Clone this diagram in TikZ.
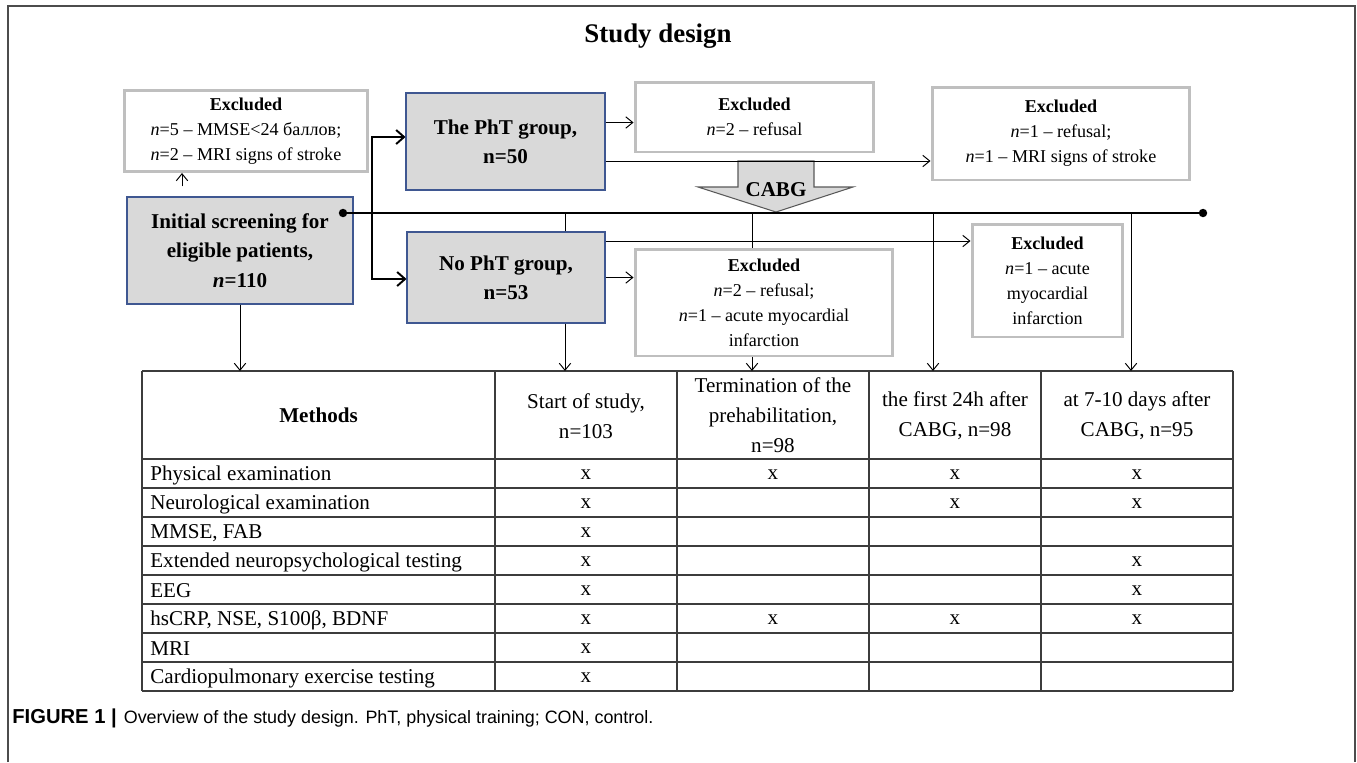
\documentclass[tikz,border=0pt]{standalone}
\usepackage{fontspec}
\setmainfont{Liberation Serif}
\newfontfamily\capfont{Liberation Sans}
\usepackage{xcolor}
\usepackage{tikz}
\usetikzlibrary{arrows.meta,positioning,calc}

\definecolor{boxgray}{RGB}{217,217,217}
\definecolor{boxblue}{RGB}{63,87,145}
\definecolor{exgray}{RGB}{191,191,191}
\definecolor{gridgray}{RGB}{60,60,60}

\begin{document}
\begin{tikzpicture}[x=0.02cm, y=-0.02cm,
        groupbox/.style={draw=boxblue, fill=boxgray, line width=0.6pt, align=center, inner sep=2pt, font=\fontsize{12}{16.6}\selectfont\bfseries},
        exbox/.style={draw=exgray, line width=1.7pt, fill=white, align=center, inner sep=2pt, font=\fontsize{10.3}{14.2}\selectfont},
        cell/.style={align=center, inner sep=0pt, font=\fontsize{12}{17}\selectfont},
        thinline/.style={line width=0.55pt},
        branch/.style={line width=1.1pt, -{Straight Barb[length=4.5pt,width=8pt]}},
        >={Straight Barb[length=4pt,width=6.5pt]}]

        \useasboundingbox (0,0) rectangle (1357,762);
        \draw[gray!60!black, line width=0.8pt] (8,762) -- (8,6) -- (1355,6) -- (1355,762);

        % Nodes
        \node[anchor=base, font=\fontsize{15.3}{18}\selectfont\bfseries] (title) at (658,42) {Study design};

        \node[exbox, minimum width=4.88cm, minimum height=1.62cm] (excl0) at (246,131) {\textbf{Excluded}\\\textit{n}=5 – MMSE<24 баллов;\\\textit{n}=2 – MRI signs of stroke};
        \node[groupbox, minimum width=4.52cm, minimum height=2.14cm, font=\fontsize{12}{16.8}\selectfont\bfseries] (screen) at (240,250.5) {Initial screening for\\eligible patients,\\\textit{n}=110};

        \node[groupbox, minimum width=3.98cm, minimum height=1.94cm] (pht) at (505.5,141.5) {The PhT group,\\n=50};
        \node[groupbox, minimum width=3.96cm, minimum height=1.82cm] (nopht) at (506,277.5) {No PhT group,\\n=53};

        \node[exbox, minimum width=4.78cm, minimum height=1.4cm] (excl1) at (754.5,117) {\textbf{Excluded}\\\textit{n}=2 – refusal};
        \node[exbox, minimum width=5.16cm, minimum height=1.86cm] (excl2) at (1061,133.5) {\textbf{Excluded}\\\textit{n}=1 – refusal;\\\textit{n}=1 – MRI signs of stroke};
        \node[exbox, minimum width=5.16cm, minimum height=2.14cm] (excl3) at (764,302.5) {\textbf{Excluded}\\\textit{n}=2 – refusal;\\\textit{n}=1 – acute myocardial\\infarction};
        \node[exbox, minimum width=3.02cm, minimum height=2.26cm] (excl4) at (1047.5,280.5) {\textbf{Excluded}\\\textit{n}=1 – acute\\myocardial\\infarction};

        % CABG arrow
        \draw[fill=boxgray, draw=gray!70!black, line width=0.6pt] (738,161) -- (814,161) -- (814,187) -- (853,187) -- (776,212) -- (698,187) -- (738,187) -- cycle;
        \node[font=\fontsize{12}{14}\selectfont\bfseries] (cabg) at (776,190) {CABG};

        % Timeline
        \coordinate (tl0) at (343,213);
        \coordinate (tl1) at (1203,213);
        \coordinate (br) at (372,213);
        \coordinate (d3) at (933,213);
        \coordinate (d4) at (1131,213);
        \coordinate (tabtop) at (142,371);

        % Table
        \foreach \x in {142,495,677,869,1041,1233}
            \draw[gridgray, line width=0.8pt] (\x,371) -- (\x,691);
        \foreach \y in {371,459,488,517,546,575,604,633,662,691}
            \draw[gridgray, line width=0.8pt] (142,\y) -- (1233,\y);

        \node[cell, font=\fontsize{12}{17}\selectfont\bfseries] (hd0) at (318.5,415) {Methods};
        \node[cell] (hd1) at (586,416) {Start of study,\\n=103};
        \node[cell] (hd2) at (773,415) {Termination of the\\prehabilitation,\\n=98};
        \node[cell] (hd3) at (955,416) {the first 24h after\\CABG, n=98};
        \node[cell] (hd4) at (1137,416) {at 7-10 days after\\CABG, n=95};

        \foreach \name/\a/\b/\c/\d [count=\i] in {
                Physical examination/x/x/x/x,
                Neurological examination/x//x/x,
                {MMSE, FAB}/x///,
                Extended neuropsychological testing/x///x,
                EEG/x///x,
                {hsCRP, NSE, S100β, BDNF}/x/x/x/x,
                MRI/x///,
                Cardiopulmonary exercise testing/x///} {
            \pgfmathsetmacro\yy{446+29*\i}
            \node[cell, anchor=west] (m\i) at (150,\yy) {\name};
            \node[cell] (a\i) at (586,\yy) {\a};
            \node[cell] (b\i) at (773,\yy) {\b};
            \node[cell] (c\i) at (955,\yy) {\c};
            \node[cell] (e\i) at (1137,\yy) {\d};
        }

        % Edges
        \coordinate (s0) at ([xshift=-1.16cm,yshift=0.2cm]screen.north);
        \draw[thinline, ->] (s0) -- (s0 |- excl0.south);

        \draw[branch] (br) |- ([yshift=0.09cm]pht.west);
        \draw[branch] (br) |- ([yshift=-0.03cm]nopht.west);

        \draw[thinline, ->] ([yshift=0.38cm]pht.east) -- ([yshift=0.38cm]pht.east -| excl1.west);
        \draw[thinline, ->] ([yshift=-0.39cm]pht.east) -- ([yshift=-0.39cm]pht.east -| excl2.west);
        \draw[thinline, ->] ([yshift=0.73cm]nopht.east) -- ([yshift=0.73cm]nopht.east -| excl4.west);
        \draw[thinline, ->] (nopht.east) -- (nopht.east -| excl3.west);

        \draw[thinline, ->] (screen.south) -- (screen.south |- tabtop);
        \draw[thinline] ([xshift=1.18cm]nopht.north) -- ([xshift=1.18cm]nopht.north |- tl0);
        \draw[thinline, ->] ([xshift=1.18cm]nopht.south) -- ([xshift=1.18cm]nopht.south |- tabtop);
        \draw[thinline] ([xshift=-0.24cm]excl3.north) -- ([xshift=-0.24cm]excl3.north |- tl0);
        \draw[thinline, ->] ([xshift=-0.24cm]excl3.south) -- ([xshift=-0.24cm]excl3.south |- tabtop);
        \draw[thinline, ->] (d3) -- (d3 |- tabtop);
        \draw[thinline, ->] (d4) -- (d4 |- tabtop);

        \draw[line width=1.1pt] (tl0) -- (tl1);
        \fill (tl0) circle (2.4pt);
        \fill (tl1) circle (2.4pt);

        % Caption
        \node[anchor=base west, inner sep=0pt, font=\capfont\fontsize{10.2}{12}\selectfont] (caption) at (12,723) {{\fontsize{11.5}{12}\selectfont\bfseries FIGURE 1 |}\hspace{4pt}Overview of the study design. PhT, physical training; CON, control.};

    \end{tikzpicture}
\end{document}
